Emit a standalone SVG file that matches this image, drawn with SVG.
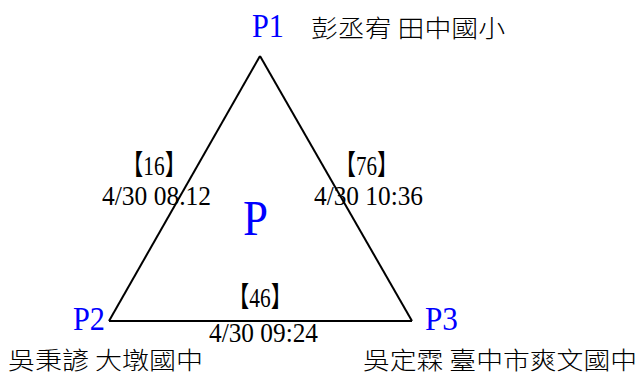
<svg xmlns="http://www.w3.org/2000/svg" width="640" height="376" viewBox="0 0 640 376">
<style>
.lbl{font-family:"Liberation Serif","Noto Serif CJK TC","Noto Sans CJK TC",serif;fill:#0000ff;}
.num{font-family:"Liberation Serif","Noto Sans CJK TC",serif;fill:#000;font-size:28px;}
.cjk{font-family:"Noto Sans CJK TC",sans-serif;fill:#000;font-size:24px;font-weight:300;}
.edge{fill:none;stroke:#000;stroke-width:2;}
</style>
<rect width="640" height="376" fill="#fff"/>
<g id="connectors">
<line class="edge" x1="260" y1="56" x2="109" y2="321"/>
<line class="edge" x1="260" y1="56" x2="412" y2="321"/>
<line class="edge" x1="109" y1="321" x2="412" y2="321"/>
</g>
<g id="P1">
<text class="lbl" x="252" y="37" font-size="33" textLength="32" lengthAdjust="spacingAndGlyphs">P1</text>
<text class="cjk" x="311" y="37" textLength="194" lengthAdjust="spacingAndGlyphs">彭丞宥 田中國小</text>
</g>
<g id="P2">
<text class="lbl" x="73" y="330" font-size="33" textLength="32" lengthAdjust="spacingAndGlyphs">P2</text>
<text class="cjk" x="8" y="369" textLength="195" lengthAdjust="spacingAndGlyphs">吳秉諺 大墩國中</text>
</g>
<g id="P3">
<text class="lbl" x="425" y="330" font-size="33" textLength="33" lengthAdjust="spacingAndGlyphs">P3</text>
<text class="cjk" x="363" y="369" textLength="274" lengthAdjust="spacingAndGlyphs">吳定霖 臺中市爽文國中</text>
</g>
<g id="P">
<text class="lbl" x="243" y="235" font-size="50" textLength="25" lengthAdjust="spacingAndGlyphs">P</text>
</g>
<g id="edge-labels">
<text class="num" x="122" y="175" textLength="64" lengthAdjust="spacingAndGlyphs">【16】</text>
<text class="num" x="102" y="205" textLength="109" lengthAdjust="spacingAndGlyphs">4/30 08.12</text>
<text class="num" x="335" y="175" textLength="63" lengthAdjust="spacingAndGlyphs">【76】</text>
<text class="num" x="314" y="205" textLength="109" lengthAdjust="spacingAndGlyphs">4/30 10:36</text>
<text class="num" x="228" y="307" textLength="64" lengthAdjust="spacingAndGlyphs">【46】</text>
<text class="num" x="209" y="342" textLength="109" lengthAdjust="spacingAndGlyphs">4/30 09:24</text>
</g>
</svg>
